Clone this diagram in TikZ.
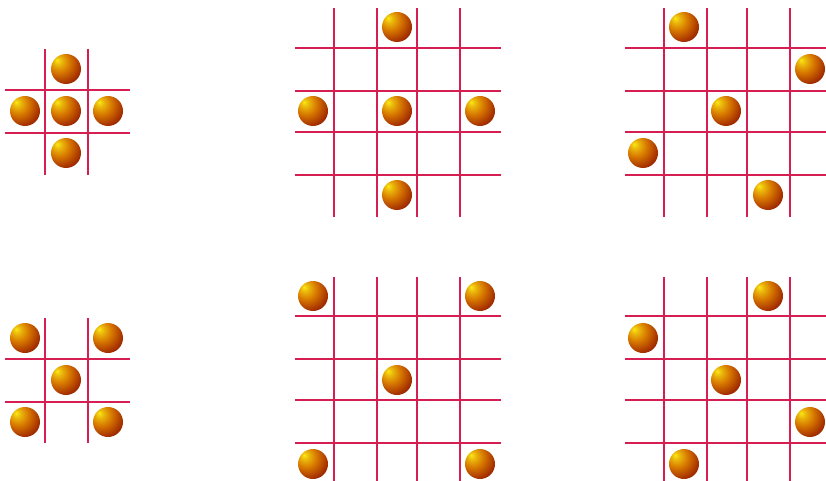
\documentclass[tikz,border=0pt]{standalone}
\usepackage{xcolor}
\usepackage{tikz}
\definecolor{gridred}{RGB}{214,30,82}
\definecolor{ballhi}{RGB}{250,232,20}
\definecolor{ballmid}{RGB}{214,118,0}
\definecolor{ballrim}{RGB}{168,52,0}
\definecolor{balldark}{RGB}{118,8,0}
\pgfdeclareradialshading{goldball}{\pgfpoint{-15bp}{15bp}}{%
  color(0bp)=(ballhi); color(7bp)=(ballhi!55!ballmid); color(18bp)=(ballmid);
  color(32bp)=(ballrim); color(46bp)=(balldark); color(80bp)=(balldark)}
\tikzset{
  % --- board lines -----------------------------------------------------------
  gline/.style={gridred,line width=2pt},
  % --- queens ----------------------------------------------------------------
  ball/.style={circle,inner sep=0pt,minimum size=30pt,shading=goldball},
}

\begin{document}
\begin{tikzpicture}[x=1pt,y=-1pt]
  \useasboundingbox (0,0) rectangle (826,481);

  % small boards
  \foreach \x in {45,88} {
    \draw[gline] (\x,49) -- (\x,175);
    \draw[gline] (\x,318) -- (\x,443);
  }
  \foreach \y in {90,133,359,402}
    \draw[gline] (5,\y) -- (130,\y);

  % large boards
  \foreach \x in {334,377,417,460} {
    \draw[gline] (\x,8) -- (\x,217);
    \draw[gline] (\x,277) -- (\x,481);
  }
  \foreach \x in {664,707,747,790} {
    \draw[gline] (\x,8) -- (\x,217);
    \draw[gline] (\x,277) -- (\x,481);
  }
  \foreach \y in {48,91,132,175,316,359,400,443} {
    \draw[gline] (295,\y) -- (501,\y);
    \draw[gline] (625,\y) -- (826,\y);
  }

  % queens, top row
  \node[ball] (pa1) at (66,69)  {};
  \node[ball] (pa2) at (25,111) {};
  \node[ball] (pa3) at (66,111) {};
  \node[ball] (pa4) at (108,111) {};
  \node[ball] (pa5) at (66,153) {};

  \node[ball] (pb1) at (397,27)  {};
  \node[ball] (pb2) at (313,111) {};
  \node[ball] (pb3) at (397,111) {};
  \node[ball] (pb4) at (480,111) {};
  \node[ball] (pb5) at (397,195) {};

  \node[ball] (pc1) at (684,27)  {};
  \node[ball] (pc2) at (810,69)  {};
  \node[ball] (pc3) at (726,111) {};
  \node[ball] (pc4) at (643,153) {};
  \node[ball] (pc5) at (768,195) {};

  % queens, bottom row
  \node[ball] (qa1) at (25,338)  {};
  \node[ball] (qa2) at (108,338) {};
  \node[ball] (qa3) at (66,380)  {};
  \node[ball] (qa4) at (25,422)  {};
  \node[ball] (qa5) at (108,422) {};

  \node[ball] (qb1) at (313,296) {};
  \node[ball] (qb2) at (480,296) {};
  \node[ball] (qb3) at (397,380) {};
  \node[ball] (qb4) at (313,464) {};
  \node[ball] (qb5) at (480,464) {};

  \node[ball] (qc1) at (768,296) {};
  \node[ball] (qc2) at (643,338) {};
  \node[ball] (qc3) at (726,380) {};
  \node[ball] (qc4) at (810,422) {};
  \node[ball] (qc5) at (684,464) {};
\end{tikzpicture}
\end{document}
